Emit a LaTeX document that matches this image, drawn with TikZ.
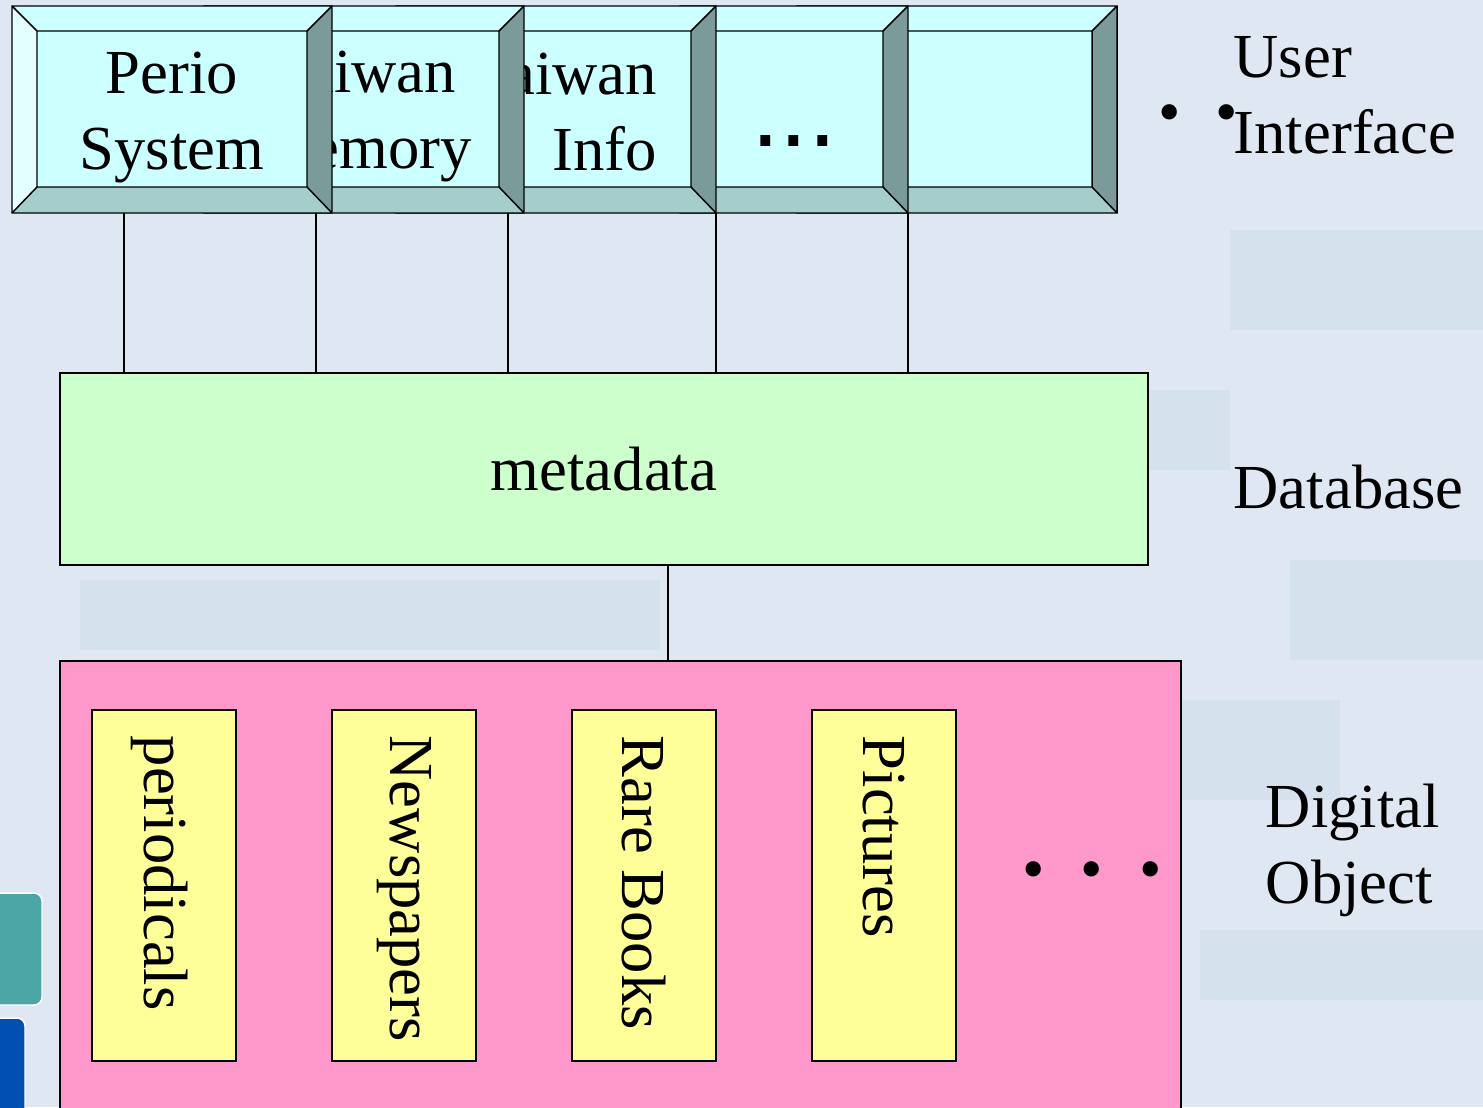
\documentclass[tikz,border=0pt]{standalone}
\usepackage{fontspec}
\setmainfont{Liberation Serif}
\newfontfamily\dotsfont{Liberation Sans}

\definecolor{slidebg}{RGB}{223,232,242}
\definecolor{slidetile}{RGB}{213,225,237}
\definecolor{uiface}{RGB}{204,255,255}
\definecolor{uilight}{RGB}{228,255,255}
\definecolor{uidark}{RGB}{122,155,153}
\definecolor{uilow}{RGB}{165,205,204}
\definecolor{metagreen}{RGB}{204,255,204}
\definecolor{objpink}{RGB}{255,153,204}
\definecolor{objyellow}{RGB}{255,255,153}

\newcommand{\bigtext}{\fontsize{47}{57}\selectfont}

% bevelled button, left and right edge in px
\newcommand{\uibutton}[2]{%
  \fill[uiface] (#1,6) rectangle (#2,213);
  \fill[uilight] (#1,6) -- (#1+25,31) -- (#1+25,187) -- (#1,213) -- cycle;
  \fill[uidark] (#2,6) -- (#2,213) -- (#2-25,187) -- (#2-25,31) -- cycle;
  \fill[uilow] (#1,213) -- (#2,213) -- (#2-25,187) -- (#1+25,187) -- cycle;
  \draw (#1,6) rectangle (#2,213) (#1+25,31) rectangle (#2-25,187)
        (#1,6) -- (#1+25,31) (#2,6) -- (#2-25,31)
        (#2,213) -- (#2-25,187) (#1,213) -- (#1+25,187);
}

\tikzset{
  btnlabel/.style={anchor=base, inner sep=0pt, align=center, font=\bigtext},
  layerlabel/.style={anchor=base west, inner sep=0pt, align=left, font=\bigtext},
  metabox/.style={draw, fill=metagreen, minimum width=816pt, minimum height=144pt, inner sep=0pt, font=\bigtext},
  objbox/.style={draw, fill=objpink, minimum width=840.75pt, minimum height=345pt},
  kindbox/.style={draw, fill=objyellow, minimum width=108pt, minimum height=263.25pt},
  kindlabel/.style={rotate=-90, anchor=west, inner sep=0pt, font=\bigtext},
  bulletmark/.style={inner sep=0pt, font=\fontsize{48}{48}\selectfont}
}

\begin{document}
\begin{tikzpicture}[x=0.75pt,y=0.75pt,yscale=-1,xscale=1,line width=1.1pt]
\clip (0,0) rectangle (1483,1107);

%Background
\fill[slidebg] (0,0) rectangle (1483,1107);
\fill[slidetile] (1230,230) rectangle (1483,330);
\fill[slidetile] (1000,390) rectangle (1230,470);
\fill[slidetile] (1290,560) rectangle (1483,660);
\fill[slidetile] (80,580) rectangle (660,650);
\fill[slidetile] (1180,700) rectangle (1340,800);
\fill[slidetile] (1200,930) rectangle (1483,1000);
\fill[teal!70, draw=white, rounded corners=6pt] (-10,893) rectangle (42,1005);
\fill[blue!55!cyan!70!black, draw=white, rounded corners=6pt] (-10,1018) rectangle (25,1120);

%Connector feet
\coordinate (p1) at (124,213);
\coordinate (p2) at (316,213);
\coordinate (p3) at (508,213);
\coordinate (p4) at (716,213);
\coordinate (p5) at (908,213);

%Database layer
\node[metabox] (meta) at (604,469) {metadata};
\foreach \i in {1,...,5}
  \draw (p\i) -- (p\i |- meta.north);

%User interface buttons, last one first
\uibutton{797}{1117}
\uibutton{680}{908}
\node[btnlabel, font=\dotsfont\fontsize{77}{77}\selectfont] (ui4) at (794,146) {...};
\uibutton{396}{716}
\node[btnlabel, align=right] (ui3) at (565,170) {Taiwan\\Info};
\uibutton{204}{524}
\node[btnlabel] (ui2) at (364,168) {Taiwan\\Memory};
\uibutton{12}{332}
\node[btnlabel] (ui1) at (172,169) {Perio\\System};

%Digital object layer
\node[objbox] (obj) at (620.5,891) {};
\draw (668,0 |- meta.south) -- (668,0 |- obj.north);

\node[kindbox] (k1) at (164,885.5) {};
\node[kindbox] (k2) at (404,885.5) {};
\node[kindbox] (k3) at (644,885.5) {};
\node[kindbox] (k4) at (884,885.5) {};
\node[kindlabel] (t1) at (160,735) {periodicals};
\node[kindlabel] (t2) at (404,735) {Newspapers};
\node[kindlabel] (t3) at (644,735) {Rare Books};
\node[kindlabel] (t4) at (884,735) {Pictures};
\node[bulletmark] (more) at (1092,876) {•\hspace{27pt}•\hspace{27pt}•};

%Layer names
\node[layerlabel] (lui) at (1233,153) {User\\Interface};
\node[bulletmark] (bul1) at (1170,119) {•};
\node[bulletmark] (bul2) at (1227,119) {•};
\node[layerlabel] (ldb) at (1233,508) {Database};
\node[layerlabel] (ldo) at (1265,903) {Digital\\Object};

\end{tikzpicture}
\end{document}
